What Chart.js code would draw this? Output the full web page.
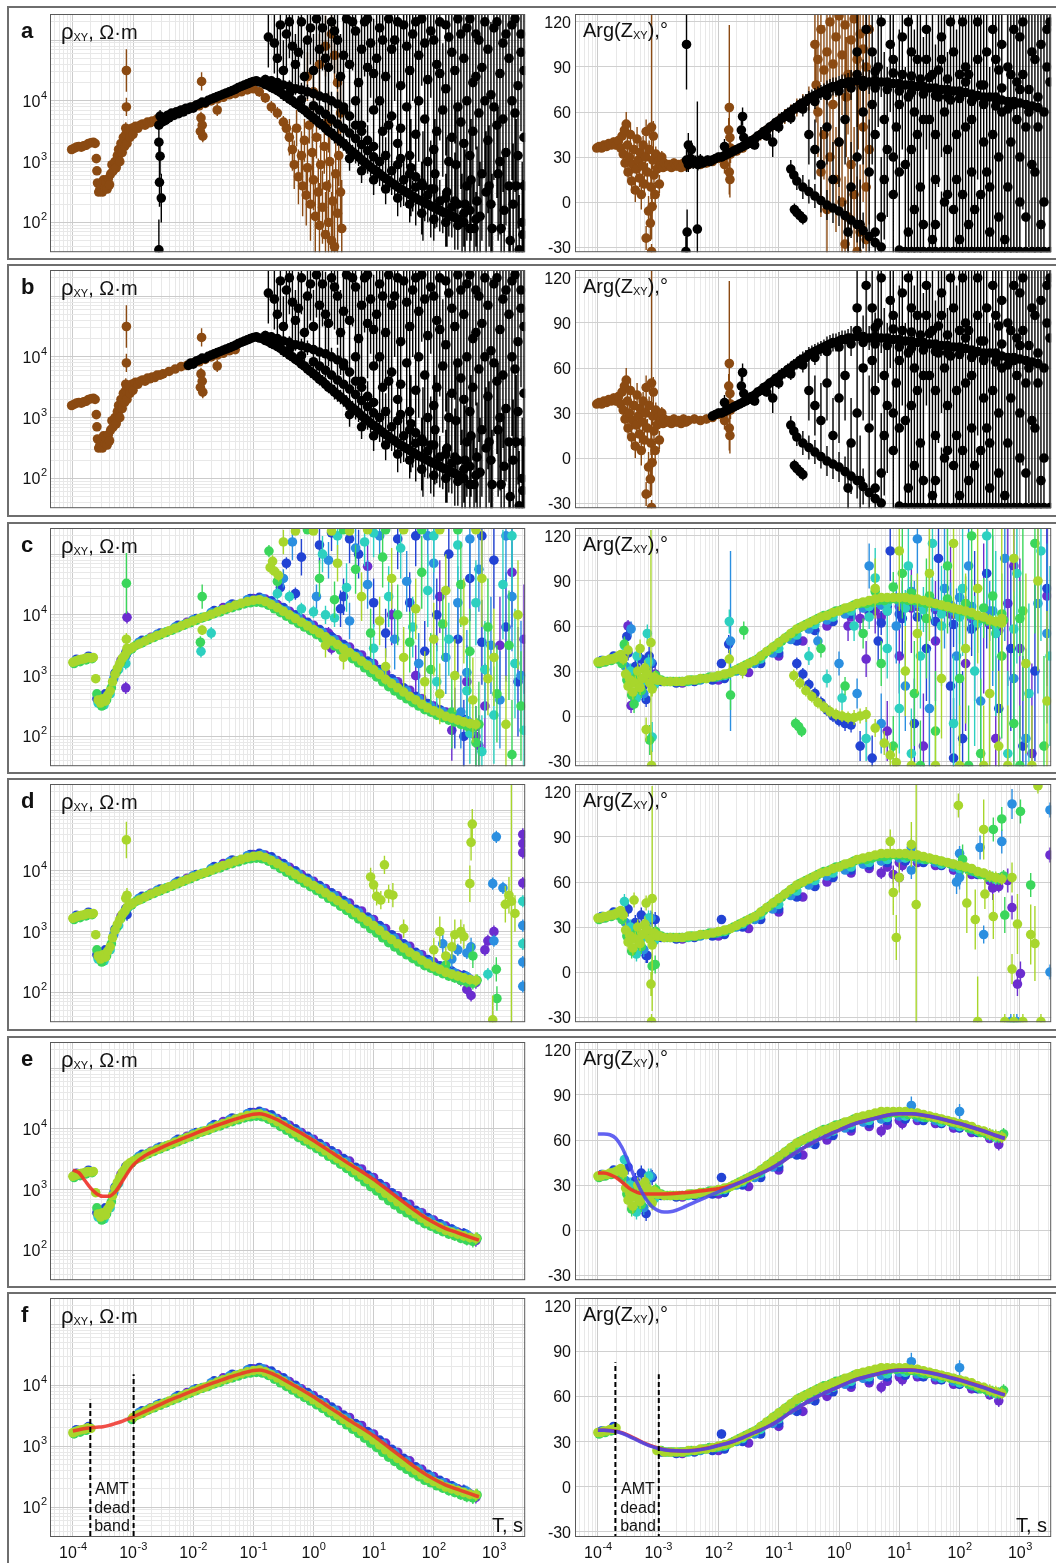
<!DOCTYPE html>
<html><head><meta charset="utf-8">
<script src="https://cdn.jsdelivr.net/npm/chart.js@4.4.1/dist/chart.umd.min.js"></script>
<style>
html,body{margin:0;padding:0;background:#fff;}
body{width:1056px;height:1563px;position:relative;overflow:hidden;font-family:'Liberation Sans',Arial,sans-serif;color:#111;}
.box{position:absolute;left:7px;width:1070px;border:2px solid #6e6e6e;box-sizing:border-box;}
canvas{position:absolute;}
.t{position:absolute;white-space:nowrap;}
.let{font-size:22px;line-height:22px;font-weight:bold;}
.lab{font-size:20px;line-height:20px;}
.sub{font-size:11px;position:relative;top:2px;}
.amt{position:absolute;width:60px;text-align:center;font-size:16px;line-height:18.5px;}
</style></head><body>
<script>
// ---------- categories / ticks ----------
const PANELS=['a','b','c','d','e','f'];
const X_RANGE=[-4.38,3.52], RHO_RANGE=[1.51,5.43], PHI_RANGE=[-33.4,125.3];
const T_TICKS=[-4,-3,-2,-1,0,1,2,3], RHO_TICKS=[2,3,4], PHI_TICKS=[-30,0,30,60,90,120];
const DEAD_BAND=[-3.71,-2.99], DEAD_TOP_RHO=[3.76,4.18], DEAD_TOP_PHI=[82.7,74.7];
// values: [log10 T, log10 rho | phase deg, error (decades | deg)]
// ---------- panels a,b: AMT (brown) and MT (black) ----------
const AB_BROWN_RHO=[[-4.02,3.2,.04],[-3.98,3.22,.04],[-3.94,3.24,.04],[-3.9,3.25,.04],[-3.86,3.24,.04],[-3.82,3.26,.04],[-3.78,3.27,.04],[-3.74,3.3,.05],[-3.7,3.31,.05],[-3.66,3.32,.05],[-3.63,3.3,.05],[-3.61,3.05,.06],[-3.6,2.85,.06],[-3.59,2.65,.06],[-3.57,2.5,.06],[-3.55,2.55,.06],[-3.53,2.62,.06],[-3.51,2.5,.06],[-3.49,2.7,.06],[-3.47,2.58,.06],[-3.45,2.66,.06],[-3.43,2.55,.06],[-3.41,2.72,.06],[-3.39,2.62,.06],[-3.37,2.8,.08],[-3.35,2.95,.08],[-3.33,2.85,.08],[-3.3,3.0,.08],[-3.28,2.9,.1],[-3.26,3.1,.1],[-3.24,3.2,.08],[-3.22,3.0,.1],[-3.2,3.3,.1],[-3.18,3.15,.1],[-3.16,3.4,.08],[-3.14,3.25,.1],[-3.12,3.45,.1],[-3.1,3.3,.1],[-3.08,3.5,.08],[-3.05,3.4,.08],[-3.02,3.55,.08],[-3.0,3.45,.06],[-2.96,3.58,.06],[-2.92,3.55,.06],[-2.88,3.6,.05],[-2.84,3.62,.05],[-2.8,3.6,.05],[-2.76,3.65,.05],[-2.72,3.64,.05],[-2.68,3.67,.05],[-2.64,3.66,.05],[-2.6,3.7,.05],[-2.55,3.7,.05],[-2.5,3.72,.05],[-2.4,3.76,.05],[-2.3,3.8,.05],[-2.2,3.84,.05],[-2.1,3.86,.05],[-2.0,3.9,.05],[-1.9,3.92,.05],[-1.8,3.96,.05],[-1.7,4.0,.05],[-1.6,4.03,.05],[-1.5,4.06,.05],[-1.4,4.1,.05],[-1.3,4.12,.05],[-1.2,4.15,.05],[-1.1,4.18,.05],[-1.0,4.2,.05],[-0.9,4.15,.08],[-0.8,4.05,.08],[-0.7,3.9,.1],[-0.6,3.8,.1],[-0.5,3.65,.1],[-0.45,3.55,.12]];
const AB_BROWN_RHO_OUT=[[-3.11,4.5,.35],[-3.11,3.9,.15],[-3.12,3.55,.1],[-1.86,4.32,.15],[-1.87,3.72,.1],[-1.85,3.6,.1],[-1.84,3.42,.1],[-1.88,3.5,.1],[-1.6,3.85,.1]];
const AB_BROWN_RHO_CLOUD=[[-0.4,3.4,.3],[-0.35,3.2,.35],[-0.32,2.95,.4],[-0.28,3.55,.3],[-0.25,2.75,.45],[-0.2,3.1,.4],[-0.18,2.6,.5],[-0.15,3.35,.35],[-0.12,2.45,.5],[-0.1,2.9,.45],[-0.07,3.6,.3],[-0.05,2.3,.6],[-0.02,3.15,.4],[0.0,2.7,.5],[0.03,2.1,.6],[0.05,3.4,.35],[0.08,2.5,.55],[0.1,1.95,.7],[0.12,2.95,.5],[0.15,2.25,.6],[0.18,3.25,.45],[0.2,1.8,.7],[0.22,2.6,.6],[0.25,2.0,.7],[0.27,3.0,.5],[0.3,1.7,.8],[0.32,2.35,.7],[0.35,1.6,.8],[0.37,2.8,.6],[0.4,2.15,.7],[0.42,3.1,.5],[0.45,2.5,.6],[0.47,1.9,.8],[0.2,4.9,.5],[0.3,5.1,.5],[0.1,4.6,.5],[-0.1,4.4,.4],[0.4,4.3,.5],[0.35,4.75,.5],[0.0,4.15,.4],[0.45,3.8,.5],[0.25,3.65,.5]];
const AB_BLACK_RHO=[[-2.57,3.6,.15],[-2.55,3.75,.1],[-2.52,3.65,.1],[-2.5,3.72,.08],[-2.46,3.68,.08],[-2.43,3.76,.08],[-2.4,3.72,.08],[-2.36,3.8,.06],[-2.32,3.76,.06],[-2.28,3.82,.06],[-2.24,3.79,.06],[-2.2,3.85,.06],[-2.16,3.82,.06],[-2.12,3.88,.05],[-2.08,3.86,.05],[-2.04,3.9,.05],[-2.0,3.88,.05],[-1.95,3.93,.05],[-1.9,3.95,.05],[-1.85,3.98,.05],[-1.8,3.97,.05],[-1.75,4.01,.05],[-1.7,4.03,.05],[-1.65,4.05,.05],[-1.6,4.07,.05],[-1.55,4.09,.05],[-1.5,4.11,.05],[-1.45,4.13,.05],[-1.4,4.15,.05],[-1.35,4.17,.05],[-1.3,4.19,.05],[-1.25,4.22,.05],[-1.2,4.24,.05],[-1.15,4.26,.05],[-1.1,4.28,.05],[-1.05,4.3,.05],[-1.0,4.32,.05],[-0.95,4.33,.05],[-0.9,4.31,.05],[-0.85,4.3,.06],[-0.8,4.27,.06],[-0.75,4.25,.06],[-0.7,4.22,.06],[-0.65,4.2,.06],[-0.6,4.17,.07],[-0.55,4.14,.07],[-0.5,4.1,.07],[-0.45,4.07,.07],[-0.4,4.03,.08],[-0.35,4.0,.08],[-0.3,3.96,.08],[-0.25,3.93,.08],[-0.2,3.88,.08],[-0.15,3.85,.08],[-0.1,3.8,.1],[-0.05,3.76,.1],[0.0,3.72,.1],[0.05,3.68,.1],[0.1,3.63,.1],[0.15,3.6,.1],[0.2,3.55,.1],[0.25,3.5,.1],[0.3,3.47,.1],[0.35,3.42,.12],[0.4,3.38,.12],[0.45,3.34,.12],[0.5,3.3,.12],[0.55,3.25,.12],[0.6,3.2,.12],[0.65,3.16,.12],[0.7,3.12,.15],[0.75,3.08,.15],[0.8,3.03,.15],[0.85,2.99,.15],[0.9,2.95,.15],[0.95,2.91,.15],[1.0,2.87,.15],[1.05,2.84,.15],[1.1,2.8,.2],[1.15,2.76,.2],[1.2,2.72,.2],[1.25,2.69,.2],[1.3,2.65,.2],[1.35,2.62,.2],[1.4,2.58,.2],[1.45,2.55,.2],[1.5,2.52,.25],[1.55,2.49,.25],[1.6,2.46,.25],[1.65,2.43,.25],[1.7,2.4,.25],[1.75,2.37,.25],[1.8,2.35,.3],[1.85,2.32,.3],[1.9,2.3,.3],[1.95,2.27,.3],[2.0,2.25,.3],[2.05,2.22,.3],[2.1,2.2,.35],[2.15,2.17,.35],[2.2,2.15,.35],[2.25,2.12,.35],[2.3,2.1,.35],[2.35,2.08,.4],[2.4,2.05,.4],[2.5,2.0,.4],
[-0.8,4.35,.08],[-0.7,4.33,.08],[-0.6,4.3,.08],[-0.5,4.26,.1],[-0.4,4.24,.1],[-0.3,4.2,.1],[-0.2,4.18,.12],[-0.1,4.15,.12],[0.0,4.12,.12],[0.1,4.08,.15],[0.2,4.05,.15],[0.3,4.0,.15],[0.4,3.95,.2],[0.5,3.85,.2],[0.6,3.75,.2],[0.7,3.6,.2],[0.8,3.5,.25],[0.9,3.35,.25],[1.0,3.25,.3],[1.2,3.1,.3],[1.4,2.95,.3],[1.6,2.8,.35],[1.8,2.65,.35],[2.0,2.55,.4],[2.2,2.4,.4],[2.4,2.3,.45],[2.6,2.2,.45],
[-0.6,4.22,.08],[-0.4,4.12,.1],[-0.2,4.02,.1],[0.0,3.92,.12],[0.1,3.85,.12],[0.2,3.78,.12],[0.3,3.7,.15],[0.4,3.62,.15],[0.5,3.55,.15],[0.6,3.47,.18],[0.7,3.38,.18],[0.8,3.28,.2],[0.9,3.18,.2],[1.0,3.08,.2],[1.1,3.0,.25],[1.3,2.85,.25],[1.5,2.7,.3],[1.7,2.58,.3],[1.9,2.45,.35],[2.1,2.35,.35],[2.3,2.25,.4],[2.5,2.15,.45],
[0.6,3.05,.2],[0.8,2.85,.2],[1.0,2.7,.25],[1.2,2.55,.25],[1.4,2.4,.3],[1.6,2.3,.3],[1.8,2.15,.35],[2.0,2.05,.35],[2.2,2.0,.4],[2.4,1.95,.4],[2.6,1.9,.45],[2.7,2.05,.45],
[-2.57,3.32,.3],[-2.55,3.09,.3],[-2.56,2.66,.4],[-2.53,2.4,.4],[-2.57,1.55,.5]];
const AB_BLACK_RHO_CLOUD=[[-0.75,5.05,.5],[-0.6,4.7,.5],[-0.55,5.25,.5],[-0.45,5.1,.6],[-0.35,4.9,.6],[-0.3,4.6,.5],[-0.2,5.3,.6],[-0.1,5.0,.6],[0.0,4.5,.6],[0.05,5.35,.7],[0.15,5.2,.7],[0.2,4.7,.7],[0.3,5.3,.7],[0.4,5.0,.8],[0.45,4.4,.7],[0.5,3.9,.6],[0.55,5.35,.8],[0.6,4.6,.8],[0.7,5.15,.8],[0.75,4.3,.8],[0.8,3.6,.7],[0.85,5.3,.9],[0.9,4.55,.9],[0.95,4.95,.9],[1.0,3.85,.8],[1.05,4.7,.9],[1.1,5.2,1.0],[1.15,3.5,.8],[1.2,4.4,.9],[1.25,5.35,1.0],[1.3,3.75,.9],[1.35,5.0,1.0],[1.4,3.3,.9],[1.45,4.25,1.0],[1.5,5.25,1.0],[1.55,3.9,1.0],[1.6,4.5,1.0],[1.62,2.9,.8],[1.65,5.1,1.1],[1.7,3.45,1.0],[1.75,4.75,1.1],[1.8,5.35,1.1],[1.82,2.6,.9],[1.85,3.7,1.0],[1.9,4.35,1.1],[1.95,5.15,1.1],[2.0,3.2,1.0],[2.02,2.8,.9],[2.05,4.6,1.1],[2.1,5.3,1.2],[2.15,3.85,1.1],[2.2,4.2,1.1],[2.22,2.5,.9],[2.25,5.05,1.2],[2.3,3.4,1.1],[2.35,4.5,1.2],[2.37,2.95,1.0],[2.4,5.35,1.2],[2.45,3.65,1.1],[2.47,2.0,.8],[2.5,4.7,1.2],[2.52,2.3,.9],[2.55,5.2,1.2],[2.6,3.1,1.1],[2.62,2.7,1.0],[2.65,4.3,1.2],[2.67,1.9,.8],[2.7,5.1,1.2],[2.75,3.8,1.2],[2.77,2.1,.9],[2.8,4.55,1.2],[2.85,5.3,1.3],[2.87,2.5,1.0],[2.9,3.35,1.2],[2.95,4.1,1.2],[2.97,1.9,.9],[3.0,5.2,1.3],[3.05,3.6,1.2],[3.07,2.8,1.1],[3.1,4.45,1.3],[3.15,4.95,1.3],[3.17,2.2,1.0],[3.2,3.15,1.2],[3.25,4.7,1.3],[3.27,1.7,.9],[3.3,5.25,1.3],[3.35,3.8,1.3],[3.37,2.6,1.1],[3.4,4.25,1.3],[3.45,5.1,1.3],[3.47,2.0,1.0],[3.5,3.4,1.3],[3.5,4.5,1.3],[3.42,1.55,.9],
[-0.65,4.95,.5],[-0.5,4.5,.5],[-0.4,5.3,.6],[-0.25,4.8,.6],[-0.15,4.4,.6],[-0.05,5.2,.6],[0.1,4.85,.7],[0.25,4.55,.7],[0.35,5.15,.7],[0.5,4.75,.8],[0.65,5.3,.8],[0.7,4.0,.7],[0.8,4.85,.8],[0.9,5.35,.9],[1.0,4.45,.9],[1.1,4.0,.9],[1.15,5.0,1.0],[1.25,3.6,.9],[1.3,4.85,1.0],[1.4,5.3,1.0],[1.45,3.55,1.0],[1.55,4.9,1.0],[1.6,3.1,.9],[1.7,5.3,1.1],[1.75,4.0,1.0],[1.85,4.95,1.1],[1.9,3.0,1.0],[2.0,5.0,1.1],[2.05,3.5,1.1],[2.1,4.45,1.1],[2.2,5.25,1.2],[2.25,3.0,1.1],[2.3,4.8,1.2],[2.4,3.9,1.2],[2.45,5.1,1.2],[2.5,3.3,1.1],[2.55,4.0,1.2],[2.6,5.35,1.2],[2.65,3.5,1.2],[2.7,4.4,1.2],[2.75,5.0,1.2],[2.8,2.8,1.1],[2.85,4.0,1.2],[2.9,4.85,1.3],[2.95,2.3,1.0],[3.0,3.9,1.2],[3.05,5.3,1.3],[3.1,3.0,1.2],[3.15,3.7,1.2],[3.2,5.1,1.3],[3.25,2.6,1.1],[3.3,4.0,1.3],[3.35,5.35,1.3],[3.4,3.1,1.2],[3.45,4.8,1.3],[3.5,2.6,1.2],[1.95,2.55,.8],[2.35,2.35,.8],[2.55,2.6,.9],[2.72,2.35,.9],[2.92,2.6,1.0],[3.12,1.9,.9],[3.32,2.3,1.0],[3.48,1.8,.9],[1.7,2.75,.8],[1.45,3.05,.8]];
const AB_BROWN_PHI=[[-4.02,36,2],[-3.98,37,2],[-3.94,36,2],[-3.9,38,2],[-3.86,37,2],[-3.82,39,2],[-3.78,38,2],[-3.74,40,3],[-3.7,38,3],[-3.66,41,3],[-3.62,36,4],[-3.6,44,5],[-3.58,32,5],[-3.56,48,6],[-3.55,26,6],[-3.53,52,8],[-3.51,38,6],[-3.5,20,6],[-3.48,30,6],[-3.46,45,8],[-3.44,14,8],[-3.42,25,6],[-3.4,35,6],[-3.38,8,8],[-3.36,22,6],[-3.35,42,8],[-3.33,28,6],[-3.31,16,6],[-3.3,33,5],[-3.28,5,10],[-3.26,24,6],[-3.25,38,6],[-3.23,12,8],[-3.21,30,6],[-3.2,47,8],[-3.18,20,6],[-3.16,-6,10],[-3.15,35,6],[-3.13,-14,12],[-3.12,10,8],[-3.11,50,75],[-3.1,-3,10],[-3.09,28,6],[-3.08,44,10],[-3.07,18,6],[-3.05,5,8],[-3.04,32,5],[-3.02,22,5],[-3.0,27,4],[-2.98,12,6],[-2.96,25,4],[-2.94,30,4],[-2.92,23,3],[-3.11,-33,5],[-3.2,-24,8],
[-2.9,26,3],[-2.86,24,3],[-2.82,25,3],[-2.78,23,3],[-2.74,26,3],[-2.7,24,3],[-2.66,25,3],[-2.62,23,3],[-2.58,26,3],[-2.54,24,3],[-2.5,25,3],[-2.4,26,3],[-2.3,25,3],[-2.2,26,3],[-2.1,27,3],[-2.0,29,3],[-1.9,30,3],[-1.8,32,3],[-1.7,34,3],[-1.6,36,3],[-1.5,39,3],[-1.4,42,3],[-1.3,45,4],[-1.2,48,4],[-1.1,51,4],[-1.0,54,5],[-0.9,57,5],[-0.8,60,5],[-0.7,63,6],[-0.6,66,6],[-0.5,69,8],
[-1.82,63,55],[-1.83,48,8],[-1.81,43,8],[-1.8,36,10],[-1.82,20,15],[-1.81,15,12],[-1.9,25,6]];
const AB_BROWN_PHI_CLOUD=[[-0.4,105,30],[-0.35,95,30],[-0.3,115,35],[-0.25,88,30],[-0.2,100,35],[-0.15,120,40],[-0.1,92,35],[-0.05,110,40],[0.0,124,40],[0.05,98,40],[0.1,118,45],[0.15,85,40],[0.2,108,45],[0.25,122,45],[0.3,95,45],[0.35,112,50],[0.4,102,50],[0.45,90,50],[0.5,115,50],[-0.35,60,30],[-0.25,45,30],[-0.15,30,35],[-0.05,15,35],[0.05,0,40],[0.15,-10,40],[0.25,5,45],[0.35,-20,45],[0.45,-25,50],[-0.3,20,30],[-0.2,-5,35],[0.0,40,40],[0.2,25,45],[0.4,50,50],[0.1,-28,45],[0.3,-33,50],[-0.1,65,35],[0.5,35,50],[0.45,10,50],[-0.38,78,25],[0.12,70,40],[0.32,80,45]];
const AB_BLACK_PHI=[[-2.53,28,8],[-2.5,25,5],[-2.46,29,5],[-2.42,26,4],[-2.38,27,4],[-2.34,25,4],[-2.3,28,4],[-2.26,26,3],[-2.22,27,3],[-2.18,28,3],[-2.14,27,3],[-2.1,28,3],[-2.05,29,3],[-2.0,30,3],[-1.95,30,3],[-1.9,31,3],[-1.85,32,3],[-1.8,33,3],[-1.75,34,3],[-1.7,35,3],[-1.65,36,3],[-1.6,37,3],[-1.55,38,3],[-1.5,39,3],[-1.45,41,3],[-1.4,42,3],[-1.35,44,3],[-1.3,45,3],[-1.25,47,3],[-1.2,48,3],[-1.15,50,3],[-1.1,51,3],[-1.05,53,3],[-1.0,54,4],[-0.95,56,4],[-0.9,57,4],[-0.85,59,4],[-0.8,60,4],[-0.75,62,4],[-0.7,63,4],[-0.65,65,4],[-0.6,66,5],[-0.55,67,5],[-0.5,69,5],[-0.45,70,5],[-0.4,71,5],[-0.35,72,5],[-0.3,73,5],[-0.25,74,5],[-0.2,75,6],[-0.15,76,6],[-0.1,77,6],[-0.05,77,6],[0.0,78,6],[0.05,79,6],[0.1,79,6],[0.15,80,6],[0.2,80,8],[0.3,81,8],[0.4,81,8],[0.5,80,8],[0.6,81,10],[0.7,80,10],[0.8,80,10],[0.9,79,10],[1.0,79,12],[1.1,78,12],[1.2,78,12],[1.3,77,12],[1.4,77,15],[1.5,76,15],[1.6,76,15],[1.7,75,15],[1.8,75,15],[1.9,74,18],[2.0,74,18],[2.1,73,18],[2.2,72,18],[2.3,71,20],[2.4,70,20],[2.5,70,20],[2.6,69,20],[2.7,68,25],[2.8,67,25],[2.9,67,25],[3.0,66,25],[3.1,65,30],[3.2,64,30],[3.3,63,30],
[-1.4,38,3],[-1.2,44,3],[-1.0,50,4],[-0.8,56,4],[-0.6,62,5],[-0.4,67,5],[-0.2,71,6],[0.0,74,6],[0.2,76,8],[0.4,77,8],[0.6,76,10],[0.8,75,10],[1.0,74,12],[1.2,73,12],[1.4,72,15],[1.6,71,15],[1.8,70,15],[2.0,69,18],[2.2,67,18],[2.4,66,20],[2.6,64,20],[2.8,62,25],[0.3,85,8],[0.6,87,10],[0.9,86,10],[1.2,84,12],[1.5,83,15],[1.8,82,15],[2.1,80,18],[2.4,78,20],[2.7,76,25],[3.0,75,25],
[-0.8,22,6],[-0.75,18,6],[-0.7,14,6],[-0.6,10,8],[-0.5,7,8],[-0.4,4,8],[-0.3,1,8],[-0.2,-2,10],[-0.1,-4,10],[0.0,-6,10],[0.1,-9,10],[0.2,-12,12],[0.3,-15,12],[0.4,-19,12],[0.5,-23,15],[0.6,-27,15],[0.7,-30,15],[-0.74,-5,4],[-0.7,-7,4],[-0.65,-9,4],[-0.6,-11,4],
[-2.53,105,30],[-2.52,-20,15],[-2.54,-33,10],[-2.5,38,8],[-2.45,35,6],[-2.35,-18,85],[-1.6,57,6],[-1.62,48,6],[-1.58,43,6],[-1.9,37,5],[-1.1,40,10]];
const AB_BLACK_PHI_CLOUD=[[-0.5,45,20],[-0.4,35,20],[-0.3,25,25],[-0.2,50,25],[-0.1,15,25],[0.0,40,30],[0.1,55,30],[0.2,10,30],[0.3,30,35],[0.4,60,35],[0.5,20,35],[0.55,100,40],[0.6,45,40],[0.65,90,40],[0.7,-10,40],[0.75,15,40],[0.8,35,45],[0.85,105,45],[0.9,5,45],[0.95,50,45],[1.0,65,50],[1.05,110,50],[1.1,25,50],[1.15,-20,50],[1.2,100,55],[1.25,60,55],[1.3,45,55],[1.35,10,55],[1.4,-15,55],[1.45,95,60],[1.5,55,60],[1.55,-25,60],[1.6,15,60],[1.65,70,60],[1.7,110,65],[1.75,0,65],[1.8,35,65],[1.85,120,65],[1.9,-5,70],[1.95,15,70],[2.0,85,70],[2.05,5,70],[2.1,50,75],[2.15,-15,75],[2.2,20,75],[2.25,70,75],[2.3,120,80],[2.35,5,80],[2.4,40,80],[2.45,100,80],[2.5,-20,80],[2.55,45,85],[2.6,95,85],[2.65,30,85],[2.7,60,85],[2.75,-25,85],[2.8,10,90],[2.85,85,90],[2.9,115,90],[2.95,55,90],[3.0,30,90],[3.05,120,90],[3.1,-10,90],[3.15,75,90],[3.2,100,90],[3.25,20,90],[3.3,50,90],[3.35,105,90],[3.4,0,90],[3.45,115,90],[3.5,80,90],[0.35,-15,30],[0.15,-20,30],
[0.3,100,35],[0.45,115,40],[0.55,65,40],[0.7,120,40],[0.75,55,45],[0.9,95,45],[1.0,20,50],[1.05,85,50],[1.15,120,50],[1.2,35,55],[1.3,95,55],[1.4,55,55],[1.45,115,60],[1.55,85,60],[1.6,45,60],[1.7,95,65],[1.75,60,65],[1.8,5,65],[1.9,100,70],[1.95,45,70],[2.05,120,70],[2.1,90,75],[2.2,55,75],[2.25,-5,75],[2.3,95,80],[2.4,65,80],[2.45,20,80],[2.55,115,85],[2.6,70,85],[2.65,-10,85],[2.7,105,85],[2.8,90,90],[2.85,40,90],[2.9,65,90],[3.0,110,90],[3.05,85,90],[3.1,50,90],[3.2,25,90],[3.25,95,90],[3.3,70,90],[3.35,-15,90],[3.4,60,90],[3.45,90,90],[3.5,120,90],[1.15,70,50],[1.35,82,55],[1.65,88,60],[1.85,68,65],[2.15,85,75],[2.35,78,80],[2.65,88,85],[2.95,80,90],[3.15,60,90],[0.9,30,45],[1.25,-5,55],[1.6,-15,60],[2.0,-25,70],[2.5,10,80],[3.0,0,90],[0.6,-20,40],
[1.0,-32,40],[1.1,-33,40],[1.2,-33,40],[1.3,-33,40],[1.4,-33,40],[1.5,-33,40],[1.6,-33,40],[1.7,-33,40],[1.8,-33,40],[1.9,-33,40],[2.0,-33,40],[2.1,-33,40],[2.2,-33,40],[2.3,-33,40],[2.4,-33,40],[2.5,-33,40],[2.6,-33,40],[2.7,-33,40],[2.8,-33,40],[2.9,-33,40],[3.0,-33,40],[3.1,-33,40],[3.2,-33,40],[3.3,-33,40],[3.4,-33,40],[3.5,-33,40]];
// ---------- panels c-f: six stations (L lime, G green, T teal, S sky, B blue, P purple) ----------
const RHO_L=[[-4.0,3.22,.03],[-3.95,3.24,.03],[-3.9,3.26,.03],[-3.85,3.27,.03],[-3.8,3.28,.03],[-3.75,3.3,.03],[-3.7,3.29,.03],[-3.66,3.3,.04],[-3.62,2.95,.05],[-3.58,2.6,.05],[-3.54,2.55,.05],[-3.5,2.62,.05],[-3.46,2.58,.05],[-3.42,2.68,.05],[-3.38,2.75,.05],[-3.34,2.9,.05],[-3.3,3.02,.05],[-3.26,3.12,.05],[-3.22,3.2,.05],[-3.18,3.28,.05],[-3.14,3.33,.05],[-3.1,3.4,.04],[-3.05,3.44,.04],[-3.0,3.47,.03],[-2.9,3.52,.03],[-2.8,3.57,.03],[-2.7,3.62,.03],[-2.6,3.66,.03],[-2.5,3.7,.03],[-2.4,3.74,.03],[-2.3,3.78,.03],[-2.2,3.82,.03],[-2.1,3.86,.03],[-2.0,3.9,.03],[-1.9,3.94,.03],[-1.8,3.97,.03],[-1.7,4.01,.03],[-1.6,4.05,.03],[-1.5,4.09,.03],[-1.4,4.12,.03],[-1.3,4.16,.03],[-1.2,4.19,.03],[-1.1,4.22,.03],[-1.0,4.24,.03],[-0.9,4.25,.03],[-0.8,4.22,.03],[-0.7,4.17,.03],[-0.6,4.12,.03],[-0.5,4.06,.03],[-0.4,4.0,.03],[-0.3,3.94,.03],[-0.2,3.88,.03],[-0.1,3.82,.03],[0.0,3.76,.03],[0.1,3.7,.03],[0.2,3.64,.03],[0.3,3.57,.03],[0.4,3.51,.04],[0.5,3.44,.04],[0.6,3.38,.04],[0.7,3.31,.04],[0.8,3.24,.04],[0.9,3.17,.04],[1.0,3.1,.05],[1.1,3.02,.05],[1.2,2.94,.05],[1.3,2.87,.05],[1.4,2.8,.05],[1.5,2.73,.05],[1.6,2.66,.06],[1.7,2.6,.06],[1.8,2.53,.06],[1.9,2.47,.06],[2.0,2.42,.06],[2.1,2.38,.07],[2.2,2.33,.07],[2.3,2.3,.07],[2.4,2.27,.08],[2.5,2.24,.08],[2.6,2.21,.08],[2.7,2.2,.1]];
const RHO_G=[[-3.98,3.2,.03],[-3.88,3.23,.03],[-3.78,3.26,.03],[-3.68,3.28,.04],[-3.6,2.7,.05],[-3.52,2.5,.05],[-3.44,2.6,.05],[-3.36,2.8,.05],[-3.28,3.05,.05],[-3.2,3.22,.05],[-3.12,3.35,.04],[-3.02,3.44,.03],[-2.95,3.5,.03],[-2.85,3.54,.03],[-2.75,3.59,.03],[-2.65,3.63,.03],[-2.55,3.67,.03],[-2.45,3.71,.03],[-2.35,3.75,.03],[-2.25,3.79,.03],[-2.15,3.83,.03],[-2.05,3.87,.03],[-1.95,3.91,.03],[-1.85,3.95,.03],[-1.75,3.98,.03],[-1.65,4.02,.03],[-1.55,4.05,.03],[-1.45,4.09,.03],[-1.35,4.12,.03],[-1.25,4.15,.03],[-1.15,4.18,.03],[-1.05,4.2,.03],[-0.95,4.21,.03],[-0.85,4.2,.03],[-0.75,4.16,.03],[-0.65,4.1,.03],[-0.55,4.04,.03],[-0.45,3.98,.03],[-0.35,3.92,.03],[-0.25,3.86,.03],[-0.15,3.8,.03],[-0.05,3.74,.03],[0.05,3.68,.03],[0.15,3.62,.03],[0.25,3.55,.03],[0.35,3.49,.04],[0.45,3.42,.04],[0.55,3.35,.04],[0.65,3.28,.04],[0.75,3.21,.04],[0.85,3.13,.05],[0.95,3.05,.05],[1.05,2.98,.05],[1.15,2.9,.05],[1.25,2.82,.05],[1.35,2.75,.05],[1.45,2.68,.05],[1.55,2.62,.06],[1.65,2.56,.06],[1.75,2.5,.06],[1.85,2.44,.06],[1.95,2.4,.07],[2.05,2.35,.07],[2.15,2.31,.07],[2.25,2.27,.08],[2.35,2.24,.08],[2.45,2.2,.08],[2.55,2.17,.09],[2.65,2.15,.1],[2.72,2.2,.1]];
const RHO_T=[[-3.96,3.24,.03],[-3.76,3.29,.03],[-3.58,2.55,.05],[-3.48,2.52,.05],[-3.38,2.7,.05],[-3.24,3.1,.05],[-3.08,3.4,.04],[-2.75,3.6,.03],[-2.45,3.72,.03],[-2.15,3.84,.03],[-1.85,3.96,.03],[-1.55,4.07,.03],[-1.25,4.17,.03],[-0.95,4.24,.03],[-0.75,4.2,.03],[-0.55,4.09,.03],[-0.35,3.97,.03],[-0.15,3.85,.03],[0.05,3.73,.03],[0.25,3.6,.03],[0.45,3.47,.04],[0.65,3.34,.04],[0.85,3.2,.05],[1.05,3.06,.05],[1.25,2.9,.05],[1.45,2.75,.05],[1.65,2.62,.06],[1.85,2.5,.06],[2.05,2.4,.07],[2.25,2.32,.08],[2.45,2.25,.08],[2.65,2.18,.1]];
const RHO_S=[[-3.92,3.25,.03],[-3.72,3.3,.03],[-3.56,2.6,.05],[-3.44,2.66,.05],[-3.32,2.95,.05],[-3.16,3.3,.04],[-2.9,3.55,.03],[-2.6,3.68,.03],[-2.3,3.8,.03],[-2.0,3.92,.03],[-1.7,4.04,.03],[-1.4,4.15,.03],[-1.1,4.25,.03],[-0.85,4.27,.03],[-0.65,4.18,.03],[-0.45,4.07,.03],[-0.25,3.95,.03],[-0.05,3.83,.03],[0.15,3.71,.03],[0.35,3.59,.04],[0.55,3.46,.04],[0.75,3.32,.04],[0.95,3.19,.05],[1.15,3.04,.05],[1.35,2.89,.05],[1.55,2.75,.06],[1.75,2.62,.06],[1.95,2.5,.07],[2.15,2.4,.07],[2.35,2.32,.08],[2.55,2.26,.09]];
const RHO_B=[[-3.94,3.27,.03],[-3.74,3.32,.03],[-3.6,2.62,.05],[-3.46,2.7,.05],[-3.3,3.04,.05],[-3.12,3.38,.04],[-2.85,3.58,.03],[-2.55,3.7,.03],[-2.25,3.83,.03],[-1.95,3.94,.03],[-1.65,4.07,.03],[-1.35,4.18,.03],[-1.05,4.27,.03],[-0.9,4.29,.03],[-0.7,4.23,.03],[-0.5,4.12,.03],[-0.3,4.0,.03],[-0.1,3.88,.03],[0.1,3.76,.03],[0.3,3.64,.04],[0.5,3.51,.04],[0.7,3.37,.04],[0.9,3.24,.05],[1.1,3.1,.05],[1.3,2.95,.05],[1.5,2.8,.06],[1.7,2.66,.06],[1.9,2.54,.07],[2.1,2.44,.07],[2.3,2.35,.08],[2.5,2.28,.09]];
const RHO_P=[[-3.93,3.25,.03],[-3.55,2.6,.05],[-3.2,3.25,.04],[-2.7,3.63,.03],[-2.1,3.88,.03],[-1.5,4.12,.03],[-1.0,4.27,.03],[-0.8,4.26,.03],[-0.6,4.17,.03],[-0.4,4.06,.03],[-0.2,3.94,.03],[0.0,3.83,.03],[0.2,3.71,.03],[0.4,3.59,.04],[0.6,3.47,.04],[0.8,3.34,.04],[1.0,3.2,.05],[1.2,3.05,.05],[1.4,2.9,.05],[1.6,2.76,.06],[1.8,2.62,.06],[2.0,2.5,.07],[2.2,2.4,.07],[2.4,2.3,.08],[2.6,2.22,.09],[2.7,2.16,.1]];
const PHI_L=[[-4.0,36,2],[-3.95,36,2],[-3.9,37,2],[-3.85,37,2],[-3.8,38,2],[-3.75,38,2],[-3.7,39,2],[-3.66,40,3],[-3.62,41,3],[-3.58,38,4],[-3.54,28,5],[-3.5,20,5],[-3.46,24,5],[-3.42,16,5],[-3.38,22,5],[-3.34,30,5],[-3.3,19,5],[-3.26,25,5],[-3.22,32,5],[-3.18,28,5],[-3.14,22,5],[-3.1,18,5],[-3.06,26,4],[-3.02,24,3],[-2.98,24,3],[-2.9,23,2],[-2.8,23,2],[-2.7,23,2],[-2.6,23,2],[-2.5,24,2],[-2.4,24,2],[-2.3,25,2],[-2.2,25,2],[-2.1,26,2],[-2.0,27,2],[-1.9,28,2],[-1.8,29,2],[-1.7,31,2],[-1.6,33,2],[-1.5,35,2],[-1.4,37,2],[-1.3,40,2],[-1.2,43,2],[-1.1,46,2],[-1.0,49,2],[-0.9,52,2],[-0.8,55,2],[-0.7,58,2],[-0.6,60,2],[-0.5,62,2],[-0.4,64,2],[-0.3,66,2],[-0.2,67,2],[-0.1,69,2],[0.0,70,2],[0.1,72,2],[0.2,73,2],[0.3,75,2],[0.4,76,2],[0.5,77,2],[0.6,78,2],[0.7,79,3],[0.8,79,3],[0.9,79,3],[1.0,79,3],[1.1,79,3],[1.2,78,3],[1.3,78,3],[1.4,77,3],[1.5,76,3],[1.6,75,3],[1.7,74,3],[1.8,73,3],[1.9,72,3],[2.0,71,3],[2.1,70,3],[2.2,69,3],[2.3,67,3],[2.4,66,3],[2.5,64,4],[2.6,63,4],[2.7,62,4]];
const PHI_G=[[-3.98,35,2],[-3.88,36,2],[-3.78,37,2],[-3.68,38,3],[-3.6,35,4],[-3.52,24,5],[-3.44,14,5],[-3.36,26,5],[-3.28,17,5],[-3.2,30,5],[-3.12,22,5],[-3.04,27,4],[-2.95,24,2],[-2.85,23,2],[-2.75,23,2],[-2.65,23,2],[-2.55,23,2],[-2.45,24,2],[-2.35,24,2],[-2.25,25,2],[-2.15,26,2],[-2.05,26,2],[-1.95,27,2],[-1.85,28,2],[-1.75,30,2],[-1.65,32,2],[-1.55,34,2],[-1.45,36,2],[-1.35,38,2],[-1.25,41,2],[-1.15,44,2],[-1.05,47,2],[-0.95,50,2],[-0.85,53,2],[-0.75,56,2],[-0.65,59,2],[-0.55,61,2],[-0.45,63,2],[-0.35,65,2],[-0.25,67,2],[-0.15,68,2],[-0.05,70,2],[0.05,71,2],[0.15,72,2],[0.25,74,2],[0.35,75,2],[0.45,75,3],[0.55,76,3],[0.65,77,3],[0.75,77,3],[0.85,78,3],[0.95,78,3],[1.05,78,3],[1.15,77,3],[1.25,77,3],[1.35,76,3],[1.45,75,3],[1.55,75,3],[1.65,74,3],[1.75,73,3],[1.85,72,3],[1.95,71,3],[2.05,70,3],[2.15,68,3],[2.25,67,3],[2.35,65,3],[2.45,64,4],[2.55,63,4],[2.65,62,4],[2.73,64,4]];
const PHI_T=[[-3.96,36,2],[-3.76,38,2],[-3.56,47,5],[-3.46,30,5],[-3.36,12,5],[-3.26,23,5],[-3.16,36,5],[-3.06,21,4],[-2.8,23,2],[-2.5,23,2],[-2.2,25,2],[-1.9,27,2],[-1.6,32,2],[-1.3,38,2],[-1.0,45,2],[-0.7,54,2],[-0.4,61,2],[-0.1,66,2],[0.2,70,2],[0.5,73,3],[0.8,75,3],[1.1,76,3],[1.4,75,3],[1.7,72,3],[2.0,69,3],[2.3,66,3],[2.6,62,4]];
const PHI_S=[[-3.92,37,2],[-3.72,39,2],[-3.54,33,5],[-3.4,26,5],[-3.24,15,5],[-3.12,36,5],[-2.9,23,2],[-2.6,23,2],[-2.3,24,2],[-2.0,26,2],[-1.7,30,2],[-1.4,35,2],[-1.1,42,2],[-0.8,51,2],[-0.5,58,2],[-0.2,64,2],[0.1,68,2],[0.4,72,3],[0.7,74,3],[1.0,76,3],[1.2,83,6],[1.3,75,3],[1.6,73,3],[1.9,70,3],[2.0,79,5],[2.2,67,3],[2.5,63,4]];
const PHI_B=[[-3.94,37,2],[-3.74,40,2],[-3.5,42,5],[-3.38,33,5],[-3.28,38,5],[-3.2,11,5],[-3.1,35,5],[-2.95,23,2],[-2.7,22,2],[-2.4,23,2],[-2.1,24,2],[-1.95,35,3],[-1.9,25,2],[-1.6,30,2],[-1.3,35,2],[-1.0,42,2],[-0.7,50,2],[-0.4,57,2],[-0.1,63,2],[0.2,68,2],[0.5,71,3],[0.8,73,3],[1.1,74,3],[1.4,73,3],[1.7,71,3],[2.0,68,3],[2.3,65,3]];
const PHI_P=[[-3.93,36,2],[-3.45,28,5],[-3.15,24,5],[-2.6,22,2],[-2.0,24,2],[-1.5,29,2],[-1.0,40,2],[-0.6,50,2],[-0.2,60,2],[0.2,66,2],[0.5,69,3],[0.7,66,4],[0.8,70,3],[1.0,73,3],[1.05,71,4],[1.3,73,3],[1.6,71,3],[1.9,68,3],[2.2,65,3],[2.5,61,3],[2.65,57,4]];
// panel c: unfiltered outliers
const C_RHO_L=[[-3.11,3.6,.1],[-3.1,3.45,.1],[-1.85,3.75,.08],[-0.72,4.78,.1],[-0.65,4.72,.1],[-0.58,4.65,.1],[-0.68,4.88,.1],[-0.5,5.2,.2],[-0.3,5.38,.05],[0.0,5.38,.05],[0.3,5.38,.05],[0.6,5.38,.05],[0.9,5.4,.05],[1.5,5.4,.05],[2.1,5.4,.05],[2.7,5.4,.05],[0.4,4.85,.3],[0.8,4.3,.4],[1.1,3.9,.4],[1.3,4.6,.5],[1.5,3.3,.5],[1.7,4.1,.5],[1.85,2.9,.5],[2.0,3.6,.6],[2.2,4.4,.6],[2.35,3.0,.6],[2.5,3.9,.7],[2.65,2.6,.7],[2.8,4.6,.8],[3.0,3.3,.8],[3.2,2.2,.8],[3.4,4.0,.9],[2.9,2.95,.6],[2.1,2.7,.5],[1.2,3.15,.3],[0.2,3.5,.2],[0.5,3.3,.2]];
const C_RHO_G=[[-3.11,4.52,.5],[-1.85,4.3,.2],[-1.88,3.55,.1],[-0.74,5.05,.1],[-0.6,4.55,.1],[-0.1,5.4,.05],[0.5,5.4,.05],[1.2,5.4,.05],[1.8,5.4,.05],[2.4,5.4,.05],[0.1,4.6,.3],[0.35,4.25,.3],[0.7,4.75,.4],[0.95,3.7,.4],[1.15,4.95,.5],[1.4,4.0,.5],[1.6,3.55,.5],[1.8,4.7,.6],[1.95,3.1,.6],[2.15,3.85,.6],[2.3,2.4,.6],[2.45,4.5,.7],[2.6,3.4,.7],[2.75,2.2,.7],[2.9,3.8,.8],[3.05,2.7,.8],[3.25,3.5,.9],[3.45,2.5,.9],[3.3,1.7,.9],[2.7,1.9,.6]];
const C_RHO_T=[[-3.12,3.2,.1],[-1.87,3.4,.1],[-1.7,3.7,.1],[-0.6,4.35,.1],[-0.4,4.3,.1],[-0.2,4.1,.1],[0.0,4.05,.1],[0.2,4.0,.15],[0.35,3.95,.15],[0.15,5.0,.3],[0.4,5.3,.3],[0.55,4.45,.4],[0.85,5.2,.4],[1.0,3.45,.4],[1.0,5.35,.4],[1.25,4.3,.5],[1.45,5.1,.5],[1.65,3.8,.5],[1.9,4.4,.6],[2.0,5.3,.6],[2.05,2.9,.6],[2.25,3.6,.6],[2.4,5.15,.7],[2.55,2.75,.7],[2.7,4.2,.7],[2.85,3.1,.8],[3.0,2.35,.8],[3.15,4.5,.9],[3.3,5.3,.9],[3.35,3.2,.9],[3.5,2.1,.9],[2.6,2.05,.5],[2.8,1.75,.6]];
const C_RHO_S=[[-3.13,3.3,.1],[-0.5,4.6,.15],[-0.35,5.2,.3],[0.05,4.3,.2],[0.25,4.9,.3],[0.6,3.9,.3],[0.7,5.1,.4],[0.9,4.5,.4],[1.1,5.3,.4],[1.35,3.6,.5],[1.55,4.55,.5],[1.75,3.2,.5],[1.9,5.3,.5],[2.0,4.85,.6],[2.2,3.3,.6],[2.4,4.2,.6],[2.55,3.05,.7],[2.6,5.25,.7],[2.75,4.75,.7],[2.95,3.5,.8],[3.1,2.6,.8],[3.2,5.3,.8],[3.3,4.3,.9],[3.45,3.0,.9],[2.45,2.4,.6]];
const C_RHO_B=[[-3.11,3.35,.1],[-0.55,4.45,.1],[-0.45,4.85,.1],[-0.3,4.35,.1],[-0.2,4.95,.3],[0.1,5.15,.3],[0.3,5.35,.3],[0.45,4.1,.3],[0.5,4.3,.3],[0.6,5.25,.4],[0.75,5.0,.4],[1.0,4.2,.4],[1.2,3.7,.4],[1.4,5.25,.5],[1.6,4.2,.5],[1.7,5.3,.5],[1.85,3.4,.5],[2.05,4.0,.6],[2.25,5.0,.6],[2.4,3.6,.6],[2.6,4.6,.7],[2.8,3.55,.7],[2.8,5.3,.7],[3.0,4.9,.8],[3.2,3.8,.9],[3.4,2.9,.9],[2.35,2.3,.5],[2.5,2.0,.6]];
const C_RHO_P=[[-3.1,3.96,.1],[-3.12,2.8,.1],[0.25,3.7,.1],[0.32,3.62,.1],[0.4,3.55,.1],[0.47,3.5,.1],[0.3,3.45,.1],[0.9,4.8,.4],[1.3,4.0,.5],[1.7,3.0,.5],[2.1,4.3,.6],[2.55,2.9,.6],[2.7,2.0,.5],[2.75,1.85,.5],[2.85,2.5,.7],[3.1,3.5,.8],[3.3,4.7,.9],[3.5,3.6,.9],[2.3,2.1,.5]];
const C_PHI_L=[[-3.12,49,75],[-3.11,-33,10],[-3.5,44,5],[-3.3,45,6],[-3.2,-9,8],[-1.82,38,6],[-1.6,30,5],[-0.75,27,4],[-0.65,22,4],[-0.55,17,4],[-0.45,13,4],[-0.35,9,4],[-0.25,6,4],[-0.15,3,4],[-0.05,1,4],[0.05,0,4],[0.15,-1,4],[0.25,-1,5],[0.35,0,5],[0.45,1,5],[0.6,-8,6],[0.75,-18,8],[0.85,-26,8],[0.95,-31,10],[1.2,-33,30],[1.6,-33,40],[2.0,-33,40],[2.4,-33,40],[2.8,-33,40],[3.2,-33,40],[1.0,110,40],[1.3,55,40],[1.5,95,45],[1.7,25,40],[1.9,115,50],[2.1,45,50],[2.3,85,50],[2.5,15,50],[2.7,65,60],[2.9,105,60],[3.1,35,60],[3.3,90,60],[3.45,10,60],[0.6,85,20],[1.1,30,30],[2.65,-20,50]];
const C_PHI_G=[[-3.56,48,5],[-3.4,8,6],[-3.14,-16,10],[-1.8,14,10],[-1.58,57,6],[-0.72,-5,4],[-0.67,-7,4],[-0.62,-10,4],[-0.3,45,6],[0.1,20,6],[0.4,55,10],[0.7,35,15],[0.9,-20,20],[1.05,95,30],[1.25,15,35],[1.45,65,40],[1.6,-10,40],[1.8,100,45],[2.0,25,45],[2.2,120,50],[2.35,-25,50],[2.55,80,50],[2.7,40,55],[2.9,-5,55],[3.05,70,60],[3.25,115,60],[3.4,-20,60],[1.35,-33,30],[2.15,-33,40],[3.0,-33,40],[0.6,83,8],[0.9,86,10],[1.2,82,12],[1.5,80,15],[1.8,78,15],[2.1,75,18],[2.4,72,20],[2.7,68,25],[3.0,65,25]];
const C_PHI_T=[[-3.18,55,6],[-3.1,-14,10],[-3.35,40,5],[-1.82,63,8],[-0.5,40,6],[-0.2,25,6],[0.05,12,8],[0.25,60,10],[0.45,-15,15],[0.6,92,20],[0.8,45,20],[1.0,5,30],[1.15,100,30],[1.35,40,35],[1.55,115,40],[1.7,60,40],[1.9,-5,45],[2.05,85,45],[2.25,30,50],[2.45,120,50],[2.6,55,55],[2.8,-25,55],[2.95,95,60],[3.15,15,60],[3.35,110,60],[3.5,40,60],[1.2,-25,30],[0.5,66,8],[0.8,70,10],[1.1,72,12],[1.4,71,15],[1.7,68,15],[2.0,66,18],[2.3,62,20],[2.6,60,25],[2.9,58,25]];
const C_PHI_S=[[-3.45,58,5],[-1.8,50,60],[-0.35,50,6],[0.0,35,8],[0.3,15,10],[0.5,100,15],[0.7,-5,20],[0.95,60,25],[1.1,20,30],[1.3,118,35],[1.5,5,40],[1.75,85,40],[1.95,40,45],[2.15,100,45],[2.35,10,50],[2.55,70,50],[2.75,105,55],[2.9,25,55],[3.1,-15,60],[3.3,75,60],[3.45,55,60],[0.6,76,8],[0.95,79,10],[1.25,78,12],[1.55,76,15],[1.85,74,15],[2.2,73,18],[2.5,70,20]];
const C_PHI_B=[[-3.52,53,5],[-3.15,40,6],[-3.25,20,5],[-1.83,48,6],[-0.7,35,4],[-0.6,28,4],[-0.5,21,4],[-0.4,15,4],[-0.3,9,4],[-0.2,4,4],[-0.1,0,4],[0.0,-3,4],[0.1,-5,5],[0.2,-6,5],[0.35,-20,10],[0.55,-28,15],[0.65,50,15],[0.85,110,20],[1.05,65,25],[1.25,-5,30],[1.45,45,35],[1.65,105,40],[1.85,20,45],[2.05,-15,45],[2.25,60,50],[2.45,95,50],[2.65,5,55],[2.85,45,55],[3.05,-20,60],[3.25,30,60],[3.45,85,60],[1.9,-28,40],[0.7,62,8],[1.0,68,10],[1.3,66,12],[1.6,63,15],[1.9,61,15],[2.2,58,18]];
const C_PHI_P=[[-3.5,60,4],[-3.45,7,5],[-3.05,28,5],[0.15,60,10],[0.35,65,10],[0.45,38,12],[0.6,70,15],[0.8,-10,20],[1.0,40,25],[1.2,72,30],[1.4,-20,35],[1.6,50,40],[1.85,68,45],[2.1,35,45],[2.4,65,50],[2.6,-15,55],[2.8,75,55],[3.0,45,60],[3.2,-25,60],[3.45,80,60],[2.9,100,60]];
// panel d: remaining outliers
const D_RHO_L=[[-3.11,4.51,.3],[-3.1,3.6,.12],[-3.12,3.55,.1],[0.95,3.9,.15],[1.0,3.77,.12],[1.05,3.58,.15],[1.12,3.52,.15],[1.18,4.1,.15],[1.25,3.62,.15],[1.32,3.6,.2],[1.5,3.05,.15],[2.0,2.7,.2],[2.1,3.0,.25],[2.2,2.6,.15],[2.3,2.75,.2],[2.35,2.95,.25],[2.45,3.0,.2],[2.5,2.92,.2],[2.6,3.79,.3],[2.62,4.47,.3],[2.64,4.77,.25],[2.98,1.55,.4],[3.29,3.5,2.5],[3.19,3.45,.3],[3.25,3.6,.3],[3.35,3.3,.3]];
const D_RHO_G=[[2.2,2.45,.1],[2.65,2.6,.2],[3.04,2.38,.2],[3.05,1.9,.2],[2.0,2.4,.1]];
const D_RHO_T=[[3.48,3.5,.1],[3.48,2.8,.1],[2.9,2.3,.1]];
const D_RHO_S=[[2.15,2.8,.15],[2.3,2.55,.15],[2.4,2.7,.1],[2.55,2.65,.1],[2.62,2.75,.15],[3.04,4.56,.1],[2.98,3.79,.1],[3.15,3.72,.1],[3.48,2.1,.1],[3.48,2.5,.1],[3.48,3.1,.1],[3.0,2.85,.1]];
const D_RHO_B=[[-3.11,3.35,.1],[-3.1,3.28,.1]];
const D_RHO_P=[[2.45,2.2,.1],[2.55,2.05,.1],[2.62,1.95,.1],[2.85,2.7,.1],[2.9,2.85,.1],[3.0,3.0,.1],[3.48,4.6,.1],[3.48,4.45,.1],[3.48,4.3,.1],[3.48,3.8,.1]];
const D_PHI_L=[[-3.1,49,75],[-3.12,-8,8],[-3.11,-33,5],[-3.4,48,5],[-3.2,46,5],[0.9,53,15],[0.95,23,15],[1.0,63,10],[0.85,87,8],[1.2,85,15],[1.28,45,90],[1.98,111,8],[2.12,46,20],[2.26,35,20],[2.42,52,10],[2.56,37,15],[2.87,63,10],[2.96,32,20],[3.18,25,20],[3.25,19,25],[2.87,2,10],[2.3,-33,30],[2.75,-33,5],[2.9,-33,5],[3.05,-33,5],[3.35,-33,5],[3.3,124,5],[2.4,95,20]];
const D_PHI_G=[[-3.1,4,6],[-3.05,5,6],[-3.15,25,6],[2.56,95,8],[2.7,102,8],[3.01,107,8],[3.18,58,8],[2.05,75,10],[2.75,38,12]];
const D_PHI_S=[[2.34,83,8],[2.7,87,8],[2.87,112,10],[2.4,25,6],[3.5,0,5],[3.5,108,5],[2.0,63,8],[1.95,60,8],[1.2,68,6],[2.85,-33,5],[2.95,-33,5]];
const D_PHI_B=[[-3.18,11,5],[-3.08,24,6],[-3.05,35,5]];
const D_PHI_P=[[2.87,43,8],[2.8,61,8],[3.01,-1,8],[2.96,-8,8],[3.5,78,5],[2.55,56,8],[0.9,65,6],[1.0,63,6]];
// model curves (panels e, f): [log10 T, value]
const E_RHO_FIT=[[-4.0,3.32],[-3.9,3.28],[-3.8,3.15],[-3.7,3.02],[-3.6,2.93],[-3.5,2.89],[-3.4,2.89],[-3.3,2.96],[-3.2,3.1],[-3.1,3.26],[-3.0,3.4],[-2.8,3.56],[-2.6,3.66],[-2.4,3.75],[-2.2,3.83],[-2.0,3.91],[-1.8,3.99],[-1.6,4.06],[-1.4,4.13],[-1.2,4.19],[-1.0,4.24],[-0.9,4.25],[-0.8,4.23],[-0.6,4.15],[-0.4,4.04],[-0.2,3.93],[0.0,3.81],[0.2,3.68],[0.4,3.55],[0.6,3.42],[0.8,3.3],[1.0,3.17],[1.2,3.02],[1.4,2.87],[1.6,2.72],[1.8,2.58],[2.0,2.46],[2.2,2.36],[2.4,2.29],[2.6,2.22],[2.75,2.17]];
const F_RHO_FIT=[[-4.0,3.25],[-3.9,3.27],[-3.8,3.29],[-3.7,3.3],[-3.6,3.31],[-3.5,3.32],[-3.4,3.34],[-3.3,3.37],[-3.2,3.4],[-3.1,3.44],[-3.0,3.48],[-2.8,3.57],[-2.6,3.66],[-2.4,3.75],[-2.2,3.83],[-2.0,3.91],[-1.8,3.99],[-1.6,4.06],[-1.4,4.13],[-1.2,4.19],[-1.0,4.24],[-0.9,4.25],[-0.8,4.23],[-0.6,4.15],[-0.4,4.04],[-0.2,3.93],[0.0,3.81],[0.2,3.68],[0.4,3.55],[0.6,3.42],[0.8,3.3],[1.0,3.17],[1.2,3.02],[1.4,2.87],[1.6,2.72],[1.8,2.58],[2.0,2.46],[2.2,2.36],[2.4,2.29],[2.6,2.22],[2.75,2.17]];
const E_PHI_FIT_R=[[-4.0,38],[-3.9,38],[-3.8,37],[-3.7,35],[-3.6,32],[-3.5,28.5],[-3.4,26],[-3.3,24.5],[-3.2,24],[-3.0,24],[-2.8,24.2],[-2.6,24.8],[-2.4,25.5],[-2.2,26.5],[-2.0,27.5],[-1.8,29.5],[-1.6,32.5],[-1.4,36],[-1.2,39.5],[-1.0,44],[-0.8,49.5],[-0.6,54.5],[-0.4,59],[-0.2,63],[0.0,66.5],[0.2,70],[0.4,72.5],[0.6,74.5],[0.8,76.5],[1.0,77.5],[1.2,77.5],[1.4,76.5],[1.6,75],[1.8,73],[2.0,71],[2.2,68.5],[2.4,66],[2.6,63],[2.75,61]];
const E_PHI_FIT_B=[[-4.0,64],[-3.9,64],[-3.8,63.5],[-3.7,61],[-3.6,55],[-3.5,46],[-3.4,36],[-3.3,27.5],[-3.2,20.5],[-3.1,15.5],[-3.0,13],[-2.9,12],[-2.8,12.2],[-2.7,13.2],[-2.6,14.8],[-2.4,18.5],[-2.2,22],[-2.0,25.5],[-1.8,29],[-1.6,32.5],[-1.4,36],[-1.2,39.5],[-1.0,44],[-0.8,49.5],[-0.6,54.5],[-0.4,59],[-0.2,63],[0.0,66.5],[0.2,70],[0.4,72.5],[0.6,74.5],[0.8,76.5],[1.0,77.5],[1.2,77.5],[1.4,76.5],[1.6,75],[1.8,73],[2.0,71],[2.2,68.5],[2.4,66],[2.6,63],[2.75,61]];
const F_PHI_FIT_R=[[-4.0,37.5],[-3.9,37.5],[-3.8,37.3],[-3.7,36.8],[-3.6,35.8],[-3.5,34.2],[-3.4,32.3],[-3.3,30.3],[-3.2,28.5],[-3.1,26.9],[-3.0,25.6],[-2.9,24.6],[-2.8,24],[-2.6,23.7],[-2.4,24.2],[-2.2,25.5],[-2.0,27.5],[-1.8,29.5],[-1.6,32.5],[-1.4,36],[-1.2,39.5],[-1.0,44],[-0.8,49.5],[-0.6,54.5],[-0.4,59],[-0.2,63],[0.0,66.5],[0.2,70],[0.4,72.5],[0.6,74.5],[0.8,76.5],[1.0,77.5],[1.2,77.5],[1.4,76.5],[1.6,75],[1.8,73],[2.0,71],[2.2,68.5],[2.4,66],[2.6,63],[2.75,61]];
const F_PHI_FIT_B=[[-4.0,37.5],[-3.9,37.5],[-3.8,37.2],[-3.7,36.6],[-3.6,35.5],[-3.5,33.8],[-3.4,31.9],[-3.3,29.9],[-3.2,28.1],[-3.1,26.6],[-3.0,25.4],[-2.9,24.5],[-2.8,24],[-2.6,23.7],[-2.4,24.1],[-2.2,25.3],[-2.0,27.3],[-1.8,29.5],[-1.6,32.5],[-1.4,36],[-1.2,39.5],[-1.0,44],[-0.8,49.5],[-0.6,54.5],[-0.4,59],[-0.2,63],[0.0,66.5],[0.2,70],[0.4,72.5],[0.6,74.5],[0.8,76.3],[1.0,77.3],[1.2,77.3],[1.4,76.3],[1.6,74.8],[1.8,72.8],[2.0,70.8],[2.2,68.3],[2.4,65.8],[2.6,62.8],[2.75,60.8]];

// ---------- rendering ----------
const FONT="'Liberation Sans', Arial, sans-serif";
const PAL={L:'#a8d62c',G:'#3bd65b',T:'#2dd0c0',S:'#2b8fe0',B:'#2243d4',P:'#6b2dcf',K:'#000000',N:'#8b4a12'};
const ORD={L:10,G:20,T:30,S:40,B:50,P:60};
const KEYS=['P','B','S','T','G','L'];
const TR_RHO={L:RHO_L,G:RHO_G,T:RHO_T,S:RHO_S,B:RHO_B,P:RHO_P};
const TR_PHI={L:PHI_L,G:PHI_G,T:PHI_T,S:PHI_S,B:PHI_B,P:PHI_P};
const C_RHO={L:C_RHO_L,G:C_RHO_G,T:C_RHO_T,S:C_RHO_S,B:C_RHO_B,P:C_RHO_P};
const C_PHI={L:C_PHI_L,G:C_PHI_G,T:C_PHI_T,S:C_PHI_S,B:C_PHI_B,P:C_PHI_P};
const D_RHO={L:D_RHO_L,G:D_RHO_G,T:D_RHO_T,S:D_RHO_S,B:D_RHO_B,P:D_RHO_P};
const D_PHI={L:D_PHI_L,G:D_PHI_G,T:[],S:D_PHI_S,B:D_PHI_B,P:D_PHI_P};

const P10=v=>Math.pow(10,v);
function toPts(arr,log){return arr.map(p=>({x:P10(p[0]),y:log?P10(p[1]):p[1]}));}
function toBars(arr,log){const o=[];arr.forEach(p=>{const e=p[2];if(!e)return;const x=P10(p[0]);
  if(log){o.push({x:x,y:P10(p[1]-e)},{x:x,y:P10(p[1]+e)});}else{o.push({x:x,y:p[1]-e},{x:x,y:p[1]+e});}
  o.push({x:x,y:null});});return o;}
function series(arr,log,color,order){return [
  {type:'scatter',data:toPts(arr,log),backgroundColor:color,borderWidth:0,pointRadius:4.8,pointHoverRadius:0,clip:0,order:order},
  {type:'line',data:toBars(arr,log),borderColor:color,borderWidth:1.4,pointRadius:0,spanGaps:false,fill:false,clip:0,order:order+0.5}];}
function curve(arr,log,color,order){return {type:'line',data:toPts(arr,log),borderColor:color,borderWidth:3.5,pointRadius:0,fill:false,cubicInterpolationMode:'monotone',clip:0,order:order};}
function vline(lgT,lo,hi,log){return {type:'line',data:[{x:P10(lgT),y:log?P10(lo):lo},{x:P10(lgT),y:log?P10(hi):hi}],borderColor:'#000',borderWidth:2,borderDash:[5,3],pointRadius:0,fill:false,clip:0,order:0};}
function logTicks(lo,hi){const t=[];for(let e=Math.floor(lo);e<=Math.ceil(hi);e++){for(let k=1;k<10;k++){const v=k*Math.pow(10,e);const l=Math.log10(v);if(l>=lo&&l<=hi)t.push({value:v});}}return t;}
const isDec=v=>Math.abs(Math.log10(v)-Math.round(Math.log10(v)))<1e-6;
const gridLog=c=>(c.tick&&isDec(c.tick.value))?'#cbcbcb':'#e8e8e8';
function xScale(){return {type:'logarithmic',min:P10(X_RANGE[0]),max:P10(X_RANGE[1]),ticks:{display:false},grid:{color:gridLog,drawTicks:false,lineWidth:1},border:{display:false},
  afterBuildTicks:s=>{s.ticks=logTicks(X_RANGE[0],X_RANGE[1]);},afterFit:s=>{s.height=0;s.paddingLeft=0;s.paddingRight=0;}};}
function yRho(){return {type:'logarithmic',min:P10(RHO_RANGE[0]),max:P10(RHO_RANGE[1]),ticks:{display:false},grid:{color:gridLog,drawTicks:false,lineWidth:1},border:{display:false},
  afterBuildTicks:s=>{s.ticks=logTicks(RHO_RANGE[0],RHO_RANGE[1]);},afterFit:s=>{s.width=0;s.paddingTop=0;s.paddingBottom=0;}};}
function yPhi(){return {type:'linear',min:PHI_RANGE[0],max:PHI_RANGE[1],ticks:{display:false},grid:{color:'#d0d0d0',drawTicks:false,lineWidth:1},border:{display:false},
  afterBuildTicks:s=>{s.ticks=PHI_TICKS.map(v=>({value:v}));},afterFit:s=>{s.width=0;s.paddingTop=0;s.paddingBottom=0;}};}
function powLabel(c,e,x,y,align){c.textAlign='left';c.textBaseline='alphabetic';c.font='11px '+FONT;const s=String(e),ws=c.measureText(s).width;c.font='16px '+FONT;const wb=c.measureText('10').width;
  if(align==='right'){const x0=x-ws-wb-0.5;c.fillText('10',x0,y+6);c.font='11px '+FONT;c.fillText(s,x0+wb+0.5,y-2);}
  else{const x0=x-(wb+ws)/2;c.fillText('10',x0,y);c.font='11px '+FONT;c.fillText(s,x0+wb+0.5,y-8);}}
function axisPlugin(kind,showX){return {id:'axlab',afterDraw(ch){const c=ch.ctx,a=ch.chartArea,xs=ch.scales.x,ys=ch.scales.y;c.save();c.fillStyle='#111';
  if(kind==='rho'){RHO_TICKS.forEach(e=>powLabel(c,e,a.left-3,ys.getPixelForValue(P10(e)),'right'));}
  else{c.font='16px '+FONT;c.textAlign='right';c.textBaseline='alphabetic';PHI_TICKS.forEach(v=>c.fillText(String(v),a.left-4,ys.getPixelForValue(v)+6));}
  if(showX){T_TICKS.forEach(e=>powLabel(c,e,xs.getPixelForValue(P10(e)),a.bottom+21,'center'));}
  c.strokeStyle='#5a5a5a';c.lineWidth=1;c.strokeRect(a.left+0.5,a.top+0.5,a.right-a.left-1,a.bottom-a.top-1);c.restore();}};}

const ROW_TOP=[14,270,528,784,1042,1298], PLOT_H=239;
const BOX=[[6,254],[264,253],[522,252],[778,253],[1036,252],[1292,290]];
function el(tag,cls,style,html){const d=document.createElement(tag);if(cls)d.className=cls;d.style.cssText=style;if(html!==undefined)d.innerHTML=html;document.body.appendChild(d);return d;}
function mkChart(row,side,datasets,showX){
  const bp=showX?28:4, top=ROW_TOP[row]-10, h=PLOT_H+10+bp;
  const left=side==='L'?0:528, w=side==='L'?530:528;
  const pad=side==='L'?{left:50,right:2,top:10,bottom:bp}:{left:47,right:4,top:10,bottom:bp};
  const kind=side==='L'?'rho':'phi';
  const cv=document.createElement('canvas');cv.width=w;cv.height=h;cv.style.cssText='left:'+left+'px;top:'+top+'px;width:'+w+'px;height:'+h+'px;';document.body.appendChild(cv);
  new Chart(cv,{type:'scatter',data:{datasets:datasets},options:{responsive:false,maintainAspectRatio:false,animation:false,devicePixelRatio:1,events:[],
    layout:{padding:pad},plugins:{legend:{display:false},tooltip:{enabled:false}},
    scales:{x:xScale(),y:kind==='rho'?yRho():yPhi()}},plugins:[axisPlugin(kind,showX)]});
}
function colored(trend,extra,log,keep){let ds=[];KEYS.forEach(k=>{let arr=trend[k].concat(extra?extra[k]:[]);if(keep)arr=arr.filter(keep);ds=ds.concat(series(arr,log,PAL[k],ORD[k]));});return ds;}
const outsideDead=p=>p[0]<=DEAD_BAND[0]+0.02||p[0]>=DEAD_BAND[1]-0.03;

BOX.forEach(b=>el('div','box','top:'+b[0]+'px;height:'+b[1]+'px;'));

// a
mkChart(0,'L',[...series(AB_BLACK_RHO.concat(AB_BLACK_RHO_CLOUD),true,PAL.K,10),...series(AB_BROWN_RHO.concat(AB_BROWN_RHO_OUT,AB_BROWN_RHO_CLOUD),true,PAL.N,20)],false);
mkChart(0,'R',[...series(AB_BLACK_PHI.concat(AB_BLACK_PHI_CLOUD),false,PAL.K,10),...series(AB_BROWN_PHI.concat(AB_BROWN_PHI_CLOUD),false,PAL.N,20)],false);
// b
mkChart(1,'L',[...series(AB_BLACK_RHO.concat(AB_BLACK_RHO_CLOUD).filter(p=>p[0]>=-2.1),true,PAL.K,10),...series(AB_BROWN_RHO.filter(p=>p[0]<=-1.3).concat(AB_BROWN_RHO_OUT),true,PAL.N,20)],false);
mkChart(1,'R',[...series(AB_BLACK_PHI.concat(AB_BLACK_PHI_CLOUD).filter(p=>p[0]>=-2.1),false,PAL.K,10),...series(AB_BROWN_PHI.filter(p=>p[0]<=-1.75),false,PAL.N,20)],false);
// c
mkChart(2,'L',colored(TR_RHO,C_RHO,true),false);
mkChart(2,'R',colored(TR_PHI,C_PHI,false),false);
// d
mkChart(3,'L',colored(TR_RHO,D_RHO,true),false);
mkChart(3,'R',colored(TR_PHI,D_PHI,false),false);
// e
mkChart(4,'L',[curve(E_RHO_FIT,true,'rgba(238,48,40,0.9)',1),...colored(TR_RHO,null,true)],false);
mkChart(4,'R',[curve(E_PHI_FIT_B,false,'rgba(70,70,238,0.85)',1),curve(E_PHI_FIT_R,false,'rgba(238,48,40,0.9)',2),...colored(TR_PHI,null,false)],false);
// f
mkChart(5,'L',[vline(DEAD_BAND[0],1.0,DEAD_TOP_RHO[0],true),vline(DEAD_BAND[1],1.0,DEAD_TOP_RHO[1],true),curve(F_RHO_FIT,true,'rgba(238,48,40,0.85)',1),...colored(TR_RHO,null,true,outsideDead)],true);
mkChart(5,'R',[vline(DEAD_BAND[0],-40,DEAD_TOP_PHI[0],false),vline(DEAD_BAND[1],-40,DEAD_TOP_PHI[1],false),curve(F_PHI_FIT_B,false,'rgba(70,70,238,0.85)',1),curve(F_PHI_FIT_R,false,'rgba(238,48,40,0.9)',2),...colored(TR_PHI,null,false,outsideDead)],true);

// text
ROW_TOP.forEach((pt,i)=>{
  el('div','t let','left:21px;top:'+(pt+6.4)+'px;',PANELS[i]);
  el('div','t lab','left:61px;top:'+(pt+8)+'px;','<span style="font-size:22px">ρ</span><span class="sub">XY</span>, Ω·m');
  el('div','t lab','left:583px;top:'+(pt+6)+'px;','Arg(Z<span class="sub">XY</span>),°');
});
el('div','t lab','right:533px;top:'+(ROW_TOP[5]+217)+'px;','T, s');
el('div','t lab','right:9px;top:'+(ROW_TOP[5]+217)+'px;','T, s');
el('div','amt','left:82px;top:1480px;','AMT<br>dead<br>band');
el('div','amt','left:608px;top:1480px;','AMT<br>dead<br>band');
</script></body></html>
